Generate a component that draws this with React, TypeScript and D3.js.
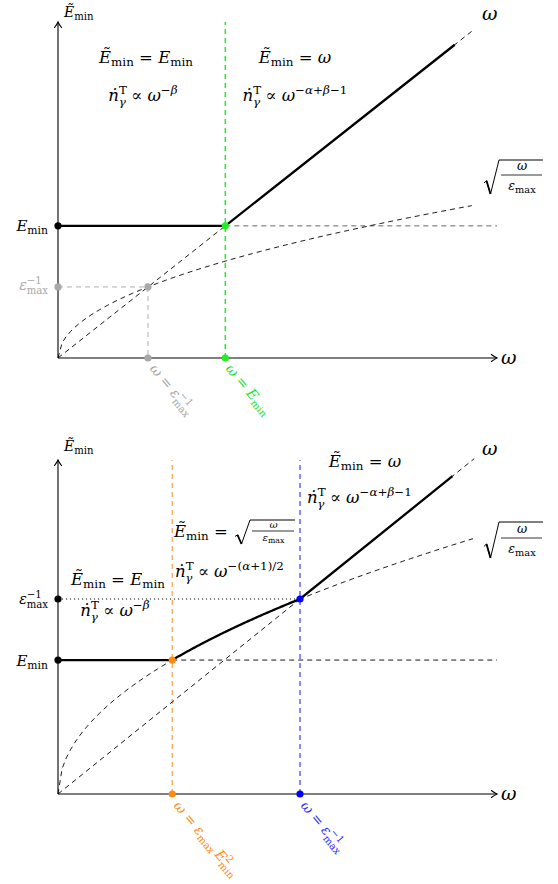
import React from 'react';
import * as d3 from 'd3';

const W = 558;
const H = 884;
const FONT = "'DejaVu Serif', 'Liberation Serif', serif";

// panel 0 = upper sketch (eps_max^-1 < E_min), panel 1 = lower sketch (eps_max^-1 > E_min)
const xAxisMax = [4.88, 1.814];
const yAxisMax = [4.73, 1.713];
const epsInv = [1, 1];
const eMin = [1.86, 0.687];
const solidEnd = [4.41, 1.63];
const omegaEnd = [4.63, 1.72];
const sqrtEnd = [4.6, 1.715];

// layout
const X0 = 58;
const X1 = 497;
const originY = [358, 794];
const topY = [22, 460];

type Seg = { t: string; it?: boolean; up?: number; sc?: number; dx?: number };

const SC = 0.72;

const M = ({ x, y, size, segs, anchor = 'start', fill = '#000', rot }: any) => {
  let cur = 0;
  return (
    <text
      x={x}
      y={y}
      fontSize={size}
      fontFamily={FONT}
      fill={fill}
      textAnchor={anchor}
      style={{ whiteSpace: 'pre' }}
      transform={rot ? `rotate(${rot} ${x} ${y})` : undefined}
    >
      {segs.map((s: Seg, i: number) => {
        const up = s.up ?? 0;
        const dy = (cur - up) * size;
        cur = up;
        return (
          <tspan
            key={i}
            dy={dy || undefined}
            dx={s.dx ? s.dx * size : undefined}
            fontStyle={s.it ? 'italic' : 'normal'}
            fontSize={size * (s.sc ?? (up !== 0 ? SC : 1))}
          >
            {s.t}
          </tspan>
        );
      })}
    </text>
  );
};

const SUB = -0.2;
const SUP = 0.42;
const EminT: Seg[] = [{ t: 'Ẽ', it: true }, { t: 'min', up: SUB }];
const Emin: Seg[] = [{ t: 'E', it: true }, { t: 'min', up: SUB }];
const EQ: Seg = { t: ' = ' };
const epsInvSeg: Seg[] = [{ t: 'ε', it: true }, { t: '−1', up: SUP }, { t: 'max', up: SUB - 0.08, dx: -1.06 }];
const ndot: Seg[] = [{ t: 'ṅ', it: true }, { t: 'T', up: SUP }, { t: 'γ', it: true, up: SUB - 0.08, dx: -0.5 }];
const PROP: Seg = { t: ' ∝ ' };
const OM: Seg = { t: 'ω', it: true };
const powBeta: Seg[] = [{ t: '−', up: SUP }, { t: 'β', it: true, up: SUP }];
const powHigh: Seg[] = [
  { t: '−', up: SUP },
  { t: 'α', it: true, up: SUP },
  { t: '+', up: SUP },
  { t: 'β', it: true, up: SUP },
  { t: '−1', up: SUP },
];
const powMid: Seg[] = [{ t: '−(', up: SUP }, { t: 'α', it: true, up: SUP }, { t: '+1)/2', up: SUP }];

const Sqrt = ({ x, y, w, top, bot, fs, numY, denY }: any) => {
  const cx = (17 + w) / 2;
  return (
    <g transform={`translate(${x},${y})`} fontFamily={FONT}>
      <path d={`M0,${bot * 0.42} L2.5,${bot * 0.3} L6.5,${bot} L15,${-top} H${w}`} fill="none" stroke="#000" strokeWidth={1} />
      <path d={`M6.5,${bot} L2.5,${bot * 0.3}`} fill="none" stroke="#000" strokeWidth={1.8} />
      <path d={`M17,0 H${w - 1}`} stroke="#000" strokeWidth={0.8} />
      <text x={cx} y={numY} fontSize={fs} fontStyle="italic" textAnchor="middle">ω</text>
      <text x={cx} y={denY} fontSize={fs} textAnchor="middle">
        <tspan fontStyle="italic">ε</tspan>
        <tspan fontSize={fs * 0.78} dy={fs * 0.2}>max</tspan>
      </text>
    </g>
  );
};

const Dot = ({ x, y, c }: any) => <circle cx={x} cy={y} r={3.6} fill={c} />;

const Axes = ({ p }: { p: number }) => {
  const y0 = originY[p];
  const yt = topY[p];
  return (
    <g stroke="#000" fill="none" strokeWidth={1.1}>
      <path d={`M${X0},${y0} H${X1}`} />
      <path d={`M${X0},${y0} V${yt}`} />
      <path d={`M${X1 - 6},${y0 - 3.8} Q${X1 - 2},${y0 - 0.8} ${X1},${y0} Q${X1 - 2},${y0 + 0.8} ${X1 - 6},${y0 + 3.8}`} />
      <path d={`M${X0 - 3.8},${yt + 6} Q${X0 - 0.8},${yt + 2} ${X0},${yt} Q${X0 + 0.8},${yt + 2} ${X0 + 3.8},${yt + 6}`} />
    </g>
  );
};

const Panel = ({ p }: { p: number }) => {
  const x = d3.scaleLinear().domain([0, xAxisMax[p]]).range([X0, X1]);
  const y = d3.scaleLinear().domain([0, yAxisMax[p]]).range([originY[p], topY[p]]);
  const line = d3.line<[number, number]>().x((d) => x(d[0])).y((d) => y(d[1]));
  const sqrtPts = (a: number, b: number) =>
    d3.range(0, 101).map((i) => {
      const w = a + ((b - a) * i) / 100;
      return [w, Math.sqrt(w / epsInv[p]) * epsInv[p]] as [number, number];
    });
  const e = eMin[p];
  const ei = epsInv[p];
  const dash = '5,4';

  if (p === 0) {
    const green = '#22ee22';
    const greenText = '#1fe01f';
    const gray = '#a8a8a8';
    return (
      <g>
        <Axes p={0} />
        {/* guide lines */}
        <path d={line([[0, ei], [ei, ei], [ei, 0]])!} stroke={gray} fill="none" strokeDasharray={dash} strokeWidth={0.9} />
        <path d={line([[e, e], [xAxisMax[p], e]])!} stroke="#666" fill="none" strokeDasharray={dash} strokeWidth={1} />
        <path d={line([[e, 0], [e, yAxisMax[p]]])!} stroke={green} fill="none" strokeDasharray={dash} strokeWidth={1.5} />
        <path d={line([[0, 0], [omegaEnd[p], omegaEnd[p]]])!} stroke="#000" fill="none" strokeDasharray={dash} strokeWidth={0.9} />
        <path d={line(sqrtPts(0, sqrtEnd[p]))!} stroke="#000" fill="none" strokeDasharray={dash} strokeWidth={0.9} />
        {/* solid */}
        <path d={line([[0, e], [e, e], [solidEnd[p], solidEnd[p]]])!} stroke="#000" fill="none" strokeWidth={2.3} />
        <Dot x={x(0)} y={y(ei)} c={gray} />
        <Dot x={x(ei)} y={y(ei)} c={gray} />
        <Dot x={x(ei)} y={y(0)} c={gray} />
        <Dot x={x(0)} y={y(e)} c="#000" />
        <Dot x={x(e)} y={y(e)} c={green} />
        <Dot x={x(e)} y={y(0)} c={green} />
        {/* labels */}
        <M x={64} y={17} size={14} segs={EminT} />
        <M x={146} y={63} size={16.5} segs={[...EminT, EQ, ...Emin]} anchor="middle" />
        <M x={143} y={101} size={16.5} segs={[...ndot, PROP, OM, ...powBeta]} anchor="middle" />
        <M x={295} y={63} size={16.5} segs={[...EminT, EQ, OM]} anchor="middle" />
        <M x={295} y={101} size={16.5} segs={[...ndot, PROP, OM, ...powHigh]} anchor="middle" />
        <M x={482} y={20} size={19} segs={[OM]} />
        <Sqrt x={484} y={175} w={59} top={15} bot={19} fs={12.5} numY={-5} denY={15} />
        <M x={48} y={231} size={15} segs={Emin} anchor="end" />
        <M x={48} y={290} size={14} segs={epsInvSeg} anchor="end" fill={gray} />
        <M x={501} y={364} size={19} segs={[OM]} />
        <M x={149} y={369} size={14} segs={[OM, EQ, ...epsInvSeg]} fill={gray} rot={50} />
        <M x={225} y={369} size={14} segs={[OM, EQ, ...Emin]} fill={greenText} rot={50} />
      </g>
    );
  }

  const xo = (e * e) / ei;
  const orange = '#ffad5c';
  const orangeDot = '#ff8a14';
  const blue = '#5a5aff';
  const blueDot = '#0000ff';
  return (
    <g>
      <Axes p={1} />
      <path d={line([[0, ei], [ei, ei]])!} stroke="#000" fill="none" strokeDasharray="1,3" strokeWidth={1} />
      <path d={line([[xo, e], [xAxisMax[p], e]])!} stroke="#000" fill="none" strokeDasharray={dash} strokeWidth={0.9} />
      <path d={line([[xo, 0], [xo, yAxisMax[p]]])!} stroke={orange} fill="none" strokeDasharray={dash} strokeWidth={1.4} />
      <path d={line([[ei, 0], [ei, yAxisMax[p]]])!} stroke={blue} fill="none" strokeDasharray={dash} strokeWidth={1.4} />
      <path d={line([[0, 0], [omegaEnd[p], omegaEnd[p]]])!} stroke="#000" fill="none" strokeDasharray={dash} strokeWidth={0.9} />
      <path d={line(sqrtPts(0, sqrtEnd[p]))!} stroke="#000" fill="none" strokeDasharray={dash} strokeWidth={0.9} />
      <path
        d={line([[0, e], [xo, e], ...sqrtPts(xo, ei), [solidEnd[p], solidEnd[p]]])!}
        stroke="#000"
        fill="none"
        strokeWidth={2.3}
      />
      <Dot x={x(0)} y={y(ei)} c="#000" />
      <Dot x={x(0)} y={y(e)} c="#000" />
      <Dot x={x(xo)} y={y(e)} c={orangeDot} />
      <Dot x={x(xo)} y={y(0)} c={orangeDot} />
      <Dot x={x(ei)} y={y(ei)} c={blueDot} />
      <Dot x={x(ei)} y={y(0)} c={blueDot} />
      <M x={64} y={451} size={14} segs={EminT} />
      <M x={118} y={585} size={16.5} segs={[...EminT, EQ, ...Emin]} anchor="middle" />
      <M x={115} y={616} size={16.5} segs={[...ndot, PROP, OM, ...powBeta]} anchor="middle" />
      <M x={233} y={537} size={16.5} segs={[...EminT, EQ]} anchor="end" />
      <Sqrt x={235} y={531} w={60} top={11} bot={13} fs={10} numY={-3} denY={10} />
      <M x={175} y={577} size={16.5} segs={[...ndot, PROP, OM, ...powMid]} />
      <M x={365} y={467} size={16.5} segs={[...EminT, EQ, OM]} anchor="middle" />
      <M x={307} y={503} size={16.5} segs={[...ndot, PROP, OM, ...powHigh]} />
      <M x={482} y={455} size={19} segs={[OM]} />
      <Sqrt x={484} y={538} w={59} top={16} bot={20} fs={12.5} numY={-5} denY={15} />
      <M x={48} y={604} size={14} segs={epsInvSeg} anchor="end" />
      <M x={48} y={666} size={15} segs={Emin} anchor="end" />
      <M x={501} y={800} size={19} segs={[OM]} />
      <M
        x={173}
        y={806}
        size={14}
        segs={[OM, EQ, { t: 'ε', it: true }, { t: 'max', up: SUB }, { t: '\u2009E', it: true }, { t: '2', up: SUP }, { t: 'min', up: SUB - 0.08, dx: -0.46 }]}
        fill={orangeDot}
        rot={50}
      />
      <M x={300} y={806} size={14} segs={[OM, EQ, ...epsInvSeg]} fill="#3030ff" rot={50} />
    </g>
  );
};

export default function App() {
  return (
    <svg width={W} height={H} style={{ position: 'absolute', left: 0, top: 0, background: '#fff' }}>
      <rect width={W} height={H} fill="#fff" />
      <Panel p={0} />
      <Panel p={1} />
    </svg>
  );
}
